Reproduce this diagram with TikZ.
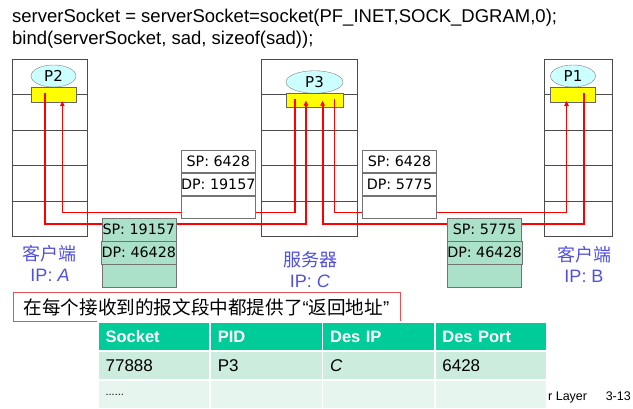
\documentclass[tikz,border=0pt]{standalone}
\usepackage{fontspec}
\setmainfont{Liberation Sans}
\newfontfamily\verdfont{DejaVu Sans}
\newfontfamily\cjkfont{Noto Sans CJK SC}
\usetikzlibrary{arrows.meta,positioning,calc,shapes.geometric}
\definecolor{sockyellow}{RGB}{255,255,0}
\definecolor{proccyan}{RGB}{204,255,255}
\definecolor{pktgreen}{RGB}{170,225,200}
\definecolor{ipblue}{RGB}{80,80,220}
\definecolor{notered}{RGB}{230,80,80}
\definecolor{tabhead}{RGB}{0,204,153}
\definecolor{tabrow}{RGB}{204,236,222}
\definecolor{tabrowlight}{RGB}{230,245,238}
\newcommand\rowdots{{\fontsize{11}{12}\selectfont......}}

\begin{document}
\begin{tikzpicture}[x=1pt,y=-1pt,
  codeline/.style={anchor=base west,inner sep=0pt,font=\fontsize{18.5}{22}\selectfont},
  host/.style={draw=black!70,fill=white,minimum height=177pt,inner sep=0pt},
  proc/.style={ellipse,draw=black!50,fill=proccyan,minimum height=22pt,inner sep=0pt,font=\verdfont\fontsize{15}{16}\selectfont},
  sock/.style={draw=black!60,fill=sockyellow,minimum height=15pt,inner sep=0pt},
  fat/.style={red,line width=2pt},
  slim/.style={red,line width=1.2pt},
  tip/.style={-{Triangle[length=5pt,width=4.5pt]}},
  pktcell/.style={draw=black!55,minimum width=74pt,minimum height=22.6pt,inner sep=0pt,font=\verdfont\fontsize{14.3}{16}\selectfont},
  hostname/.style={text=ipblue,inner sep=0pt,font=\cjkfont\fontsize{18}{20}\selectfont},
  hostip/.style={text=ipblue,inner sep=0pt,font=\fontsize{18}{20}\selectfont},
  tabcell/.style={draw=white,line width=1.5pt,text width=97pt,inner xsep=7.5pt,inner ysep=0pt,minimum height=29pt,align=left,font=\fontsize{17}{20}\selectfont},
  footer/.style={inner sep=0pt,font=\fontsize{12.5}{14}\selectfont}]
\useasboundingbox (0,0) rectangle (633,409);

\node[codeline] (code1) at (12,23) {serverSocket = serverSocket=socket(PF\_INET,SOCK\_DGRAM,0);};
\node[codeline] (code2) at ([yshift=-22pt]code1.base west) {bind(serverSocket, sad, sizeof(sad));};

\node[host,minimum width=75pt] (hostA) at (49.2,147.8) {};
\node[host,minimum width=96.3pt] (server) at (309.2,147.8) {};
\node[host,minimum width=67.7pt] (hostB) at (577.9,147.8) {};
\foreach \h in {hostA,server,hostB}
  \foreach \k in {1,2,3,4}
    \draw[black!70] ($(\h.north west)!\k/5!(\h.south west)$) -- ($(\h.north east)!\k/5!(\h.south east)$);

\node[proc,minimum width=45pt] (p2) at (53.5,76) {P2};
\node[proc,minimum width=57pt,minimum height=22.5pt] (p3) at (314.5,82) {P3};
\node[proc,minimum width=45pt] (p1) at (573,76) {P1};
\node[sock,minimum width=45pt,below=0pt of p2] (sockA) {};
\node[sock,minimum width=57pt,minimum height=14pt,below=0pt of p3] (sockC) {};
\node[sock,minimum width=45pt,below=0pt of p1] (sockB) {};

\coordinate (aOut) at ([xshift=-8.5pt,yshift=2pt]sockA.center);
\coordinate (aIn) at ([xshift=8.8pt,yshift=1.5pt]sockA.south);
\coordinate (cOutA) at ([xshift=-19.6pt,yshift=2pt]sockC.center);
\coordinate (cInA) at ([xshift=-8.6pt]sockC.center);
\coordinate (cInB) at ([xshift=8.1pt]sockC.center);
\coordinate (cOutB) at ([xshift=19.7pt,yshift=2pt]sockC.center);
\coordinate (bIn) at ([xshift=-6.5pt,yshift=1.5pt]sockB.south);
\coordinate (bOut) at ([xshift=10.5pt,yshift=2pt]sockB.center);
\coordinate (upper) at (0,212.3);
\coordinate (lower) at (0,224);

\draw[fat,tip] (aOut) |- (cInA |- lower) -- (cInA);
\draw[slim,tip] (cOutA) |- (aIn |- upper) -- (aIn);
\draw[fat,tip] (bOut) |- (cInB |- lower) -- (cInB);
\draw[slim,tip] (cOutB) |- (bIn |- upper) -- (bIn);

\node[pktcell,fill=white] (caSP) at (218.3,161.3) {SP: 6428};
\node[pktcell,fill=white,below=0pt of caSP] (caDP) {DP: 19157};
\node[pktcell,fill=white,below=0pt of caDP] (caData) {};
\node[pktcell,fill=white] (cbSP) at (399.5,161.3) {SP: 6428};
\node[pktcell,fill=white,below=0pt of cbSP] (cbDP) {DP: 5775};
\node[pktcell,fill=white,below=0pt of cbDP] (cbData) {};
\node[pktcell,fill=pktgreen] (acSP) at (138.8,229.6) {SP: 19157};
\node[pktcell,fill=pktgreen,below=0pt of acSP] (acDP) {DP: 46428};
\node[pktcell,fill=pktgreen,below=0pt of acDP] (acData) {};
\node[pktcell,fill=pktgreen] (bcSP) at (484.5,229.6) {SP: 5775};
\node[pktcell,fill=pktgreen,below=0pt of bcSP] (bcDP) {DP: 46428};
\node[pktcell,fill=pktgreen,below=0pt of bcDP] (bcData) {};

\node[hostname] (nameA) at (50,254) {客户端};
\node[hostip] (ipA) at (50,275) {IP: \textit{A}};
\node[hostname] (nameC) at (310,260) {服务器};
\node[hostip] (ipC) at (310,281.5) {IP: \textit{C}};
\node[hostname] (nameB) at (584,255) {客户端};
\node[hostip] (ipB) at (584,276) {IP: B};

\node[draw=notered,line width=1pt,fill=white,minimum width=387pt,minimum height=29pt,inner sep=0pt,font=\cjkfont\fontsize{18.6}{20}\selectfont] (note) at (206.5,307.5) {在每个接收到的报文段中都提供了{\rmfamily“}返回地址{\rmfamily”}};

\node[footer,anchor=base west] (chapter) at (548,400) {r Layer};
\node[footer,anchor=base east] (slideno) at (631,400) {3-13};

\foreach \txt [count=\i] in {Socket,PID,Des IP,Des Port}
  \node[tabcell,fill=tabhead,text=white,font=\bfseries\fontsize{16.5}{20}\selectfont] (hd\i) at ({98+112.25*(\i-0.5)},336.5) {\txt};
\foreach \txt [count=\i] in {77888,P3,\textit{C},6428}
  \node[tabcell,fill=tabrow] (row\i) at ({98+112.25*(\i-0.5)},365.5) {\txt};
\foreach \txt [count=\i] in {\rowdots,{},{},{}}
  \node[tabcell,fill=tabrowlight] (more\i) at ({98+112.25*(\i-0.5)},394.5) {\txt};
\end{tikzpicture}
\end{document}
